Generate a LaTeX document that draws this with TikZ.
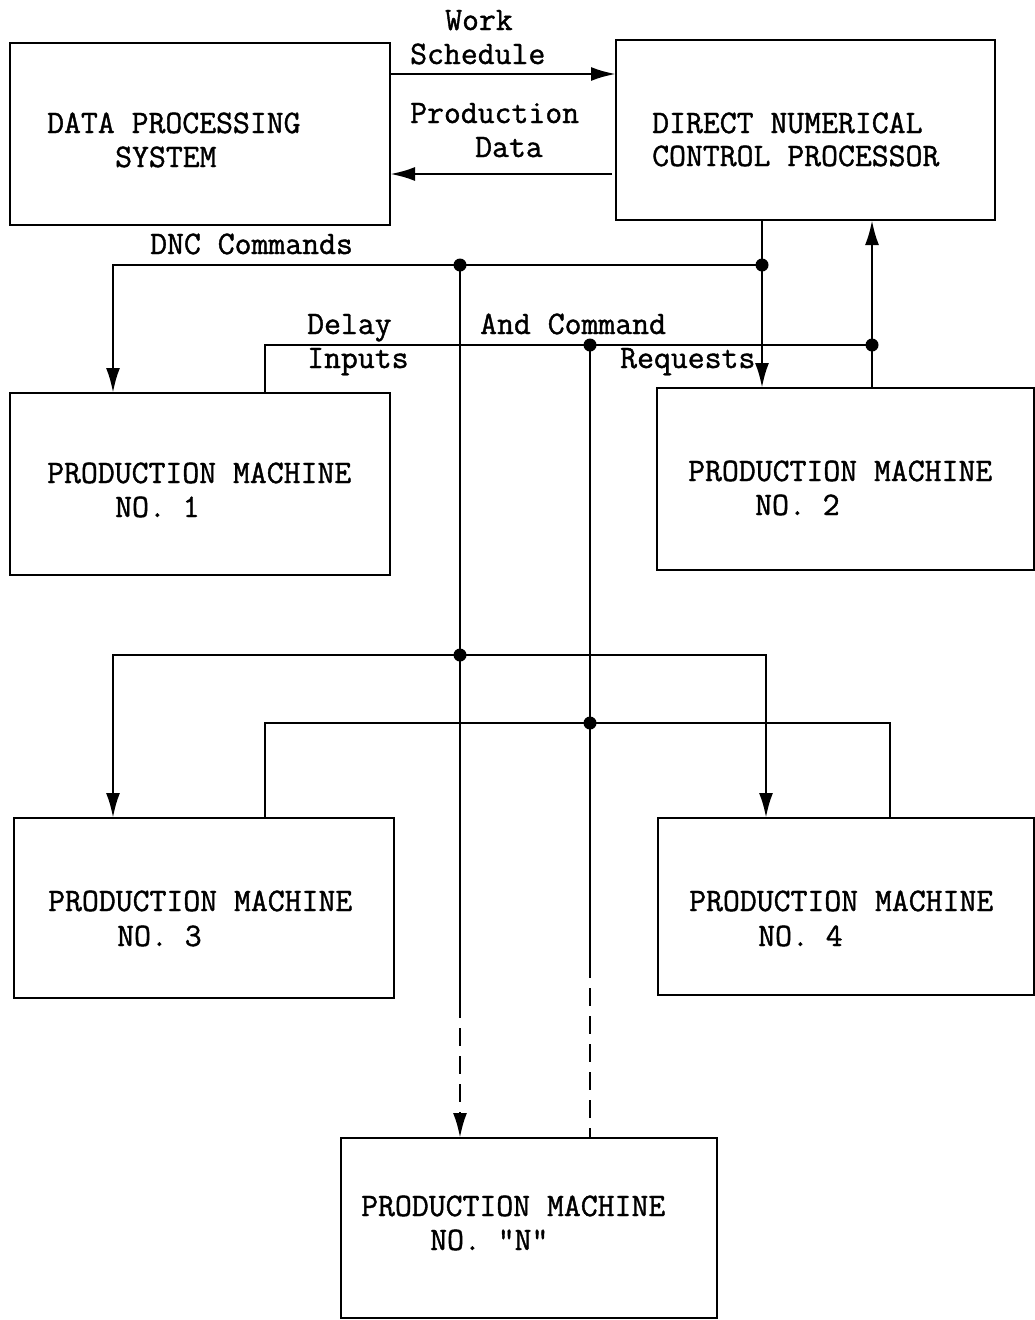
\documentclass[tikz,border=0pt]{standalone}
\usepackage{fontspec}
\newfontfamily\typer[FakeBold=1.2]{Latin Modern Mono}
\usetikzlibrary{arrows.meta}
\begin{document}
\begin{tikzpicture}[x=1pt,y=-1pt,
  box/.style={draw, line width=2.8pt, minimum width=380pt, minimum height=182pt,
    anchor=north west, inner sep=0pt, outer sep=0pt},
  lbl/.style={font=\fontsize{32.8}{34}\selectfont\typer, inner sep=0pt, anchor=base west},
  wire/.style={line width=2.8pt, line join=miter},
  thinwire/.style={line width=2pt},
  arr/.style={-{Latex[length=25pt,width=14pt]}},
  dashwire/.style={dash pattern=on 18pt off 10pt},
  dot/.style={fill=black}]
\useasboundingbox (0,0) rectangle (1035,1320);

% ---- blocks ----
\node[box, minimum width=380pt, minimum height=182pt] (dps) at (10,43) {};
\node[box, minimum width=379pt, minimum height=180pt] (dnc) at (616,40) {};
\node[box, minimum width=380pt, minimum height=182pt] (pm1) at (10,393) {};
\node[box, minimum width=377pt, minimum height=182pt] (pm2) at (657,388) {};
\node[box, minimum width=380pt, minimum height=180pt] (pm3) at (14,818) {};
\node[box, minimum width=376pt, minimum height=177pt] (pm4) at (658,818) {};
\node[box, minimum width=376pt, minimum height=180pt] (pmn) at (341,1138) {};

% ---- block texts ----
\node[lbl] (t1a) at (47,133) {DATA PROCESSING};
\node[lbl] (t1b) at (115,167) {SYSTEM};
\node[lbl] (t2a) at (652,133) {DIRECT NUMERICAL};
\node[lbl] (t2b) at (652,166) {CONTROL PROCESSOR};
\node[lbl] (t3a) at (47,483) {PRODUCTION MACHINE};
\node[lbl] (t3b) at (115,517) {NO. 1};
\node[lbl] (t4a) at (688,481) {PRODUCTION MACHINE};
\node[lbl] (t4b) at (755,515) {NO. 2};
\node[lbl] (t5a) at (48,911) {PRODUCTION MACHINE};
\node[lbl] (t5b) at (117,946) {NO. 3};
\node[lbl] (t6a) at (689,911) {PRODUCTION MACHINE};
\node[lbl] (t6b) at (758,946) {NO. 4};
\node[lbl] (t7a) at (361,1216) {PRODUCTION MACHINE};
\node[lbl] (t7b) at (430,1250) {NO. "N"};

% ---- connector labels ----
\node[lbl] (lw1) at (445,30) {Work};
\node[lbl] (lw2) at (410,64) {Schedule};
\node[lbl] (lp1) at (410,123) {Production};
\node[lbl] (lp2) at (475,157) {Data};
\node[lbl] (ldnc) at (150,254) {DNC Commands};
\node[lbl] (ld1) at (307,334) {Delay};
\node[lbl] (ld2) at (307,368) {Inputs};
\node[lbl] (la1) at (480,334) {And Command};
\node[lbl] (la2) at (620,368) {Requests};

% ---- reference coordinates for the buses ----
\coordinate (wsY) at (0,74);
\coordinate (pdY) at (0,174);
% command bus, upper level
\coordinate (c1) at (762,265);
\coordinate (c2) at (460,265);
\coordinate (c0) at (113,265);
% command bus, lower level
\coordinate (c3) at (460,655);
\coordinate (c4) at (113,655);
\coordinate (c5) at (766,655);
\coordinate (c6) at (460,1000);
% request bus, upper level
\coordinate (r1) at (872,345);
\coordinate (r2) at (590,345);
\coordinate (r0) at (265,345);
% request bus, lower level
\coordinate (r3) at (590,723);
\coordinate (r4) at (265,723);
\coordinate (r5) at (890,723);
\coordinate (r6) at (590,960);

% ---- data processing <-> DNC ----
\draw[wire,arr] (dps.east |- wsY) -- (dnc.west |- wsY);
\draw[wire,arr] ([xshift=-4pt]dnc.west |- pdY) -- (dps.east |- pdY);

% ---- DNC commands ----
\draw[wire] (dnc.south -| c1) -- (c1);
\draw[wire,arr] (c1) -- (pm2.north -| c1);
\draw[wire,arr] (c1) -- (c0) -- (pm1.north -| c0);
\draw[wire] (c2) -- (c3);
\draw[wire,arr] (c3) -- (c4) -- (pm3.north -| c4);
\draw[wire,arr] (c3) -- (c5) -- (pm4.north -| c5);
\draw[wire] (c3) -- (c6);
\draw[wire,dashwire,arr] (c6) -- (pmn.north -| c6);

% ---- delay inputs and command requests ----
\draw[wire,arr] (pm2.north -| r1) -- (r1) -- (dnc.south -| r1);
\draw[wire] (r1) -- (r0) -- (pm1.north -| r0);
\draw[thinwire] (r2) -- (r3);
\draw[wire] (r3) -- (r4) -- (pm3.north -| r4);
\draw[wire] (r3) -- (r5) -- (pm4.north -| r5);
\draw[thinwire] (r3) -- (r6);
\draw[thinwire,dashwire] (r6) -- (pmn.north -| r6);

% ---- junction dots ----
\foreach \p in {c1,c2,c3,r1,r2,r3}
  \fill[dot] (\p) circle (6.5pt);
\end{tikzpicture}
\end{document}
